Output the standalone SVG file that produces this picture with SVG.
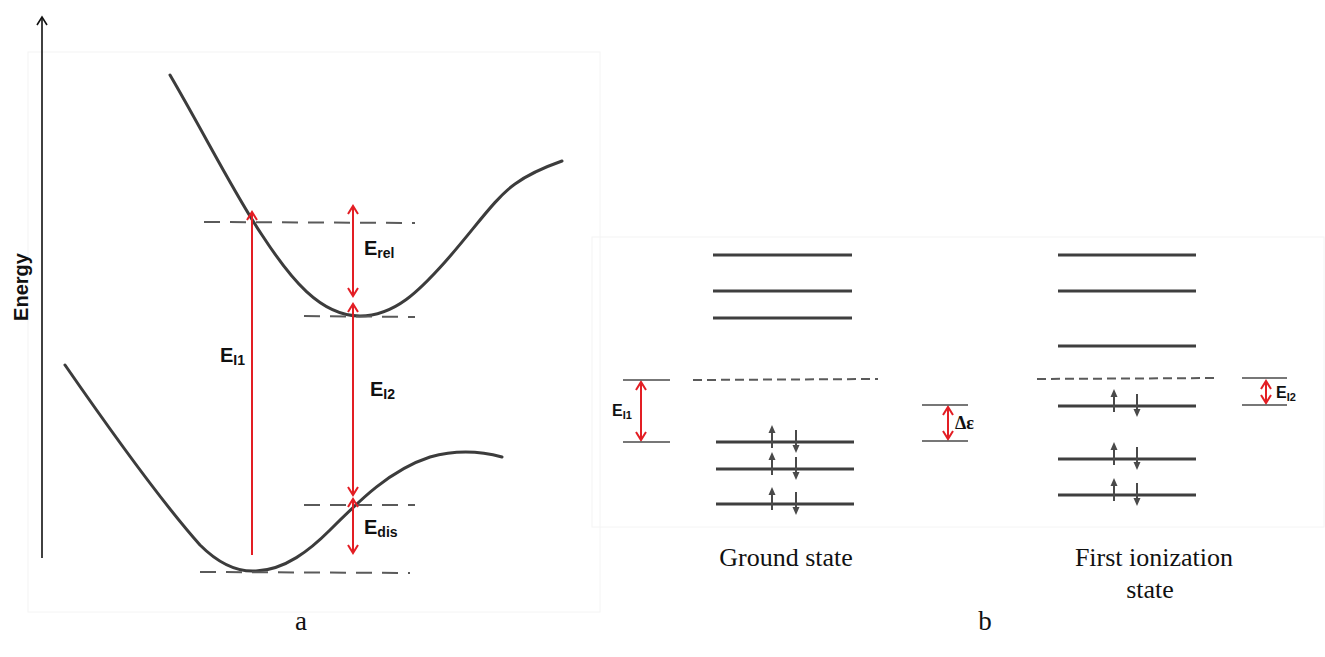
<svg xmlns="http://www.w3.org/2000/svg" width="1325" height="657" viewBox="0 0 1325 657">
<style>
.bg{fill:#ffffff}
.frame{fill:none;stroke:#f4f4f4;stroke-width:1}
.curve{fill:none;stroke:#3c3c3c;stroke-width:3;stroke-linecap:round}
.dashL{fill:none;stroke:#5a5a5a;stroke-width:2;stroke-dasharray:16 10}
.dashR{fill:none;stroke:#5a5a5a;stroke-width:2;stroke-dasharray:9 5}
.lvl{fill:none;stroke:#3f3f3f;stroke-width:3}
.tick{fill:none;stroke:#4a4a4a;stroke-width:1.6}
.red{fill:none;stroke:#e31e24;stroke-width:2}
.spin{fill:none;stroke:#4a4a4a;stroke-width:2}
.head{fill:#4a4a4a}
.lab{font-family:"Liberation Sans",Arial,sans-serif;font-weight:bold;fill:#111}
.cap{font-family:"Liberation Serif","Times New Roman",serif;fill:#111}
</style>
<defs>
<marker id="rh" viewBox="-10 -7 12 14" refX="0" refY="0" markerWidth="12" markerHeight="14" markerUnits="userSpaceOnUse" orient="auto-start-reverse">
<path d="M-8,-5 L0,0 L-8,5" fill="none" stroke="#e31e24" stroke-width="2"/>
</marker>
<marker id="ax" viewBox="-10 -7 12 14" refX="0" refY="0" markerWidth="12" markerHeight="14" markerUnits="userSpaceOnUse" orient="auto">
<path d="M-8,-5 L0,0 L-8,5" fill="none" stroke="#111" stroke-width="1.6"/>
</marker>
</defs>
<rect class="bg" x="0" y="0" width="1325" height="657"/>
<rect class="frame" x="28" y="52" width="572" height="560"/>
<rect class="frame" x="592" y="237" width="732" height="290"/>

<g id="axis">
<line x1="42" y1="558" x2="42" y2="17" stroke="#111" stroke-width="1.6" marker-end="url(#ax)"/>
<text class="lab" font-size="20" transform="translate(28,287) rotate(-90)" text-anchor="middle">Energy</text>
</g>

<g id="panel-a">
<path id="upper-curve" class="curve" d="M170,75 C205,135 235,195 262,235 C290,278 320,316 360,316 C395,316 420,290 445,262 C475,228 495,198 515,184 C530,173 545,167 562,161"/>
<path id="lower-curve" class="curve" d="M65,365 C110,430 160,500 200,545 C220,565 240,572 256,571 C285,570 310,550 330,530 C360,500 390,470 430,457 C455,450 480,451 502,457"/>
<line class="dashL" x1="204" y1="222" x2="415" y2="223"/>
<line class="dashL" x1="304" y1="316" x2="415" y2="317"/>
<line class="dashL" x1="304" y1="505" x2="415" y2="505"/>
<line class="dashL" x1="200" y1="572" x2="410" y2="573"/>
</g>

<g id="connectors">
<line class="red" x1="252" y1="555" x2="252" y2="212" marker-end="url(#rh)"/>
<line class="red" x1="353" y1="206" x2="353" y2="296" marker-start="url(#rh)" marker-end="url(#rh)"/>
<line class="red" x1="353" y1="304" x2="353" y2="495" marker-start="url(#rh)" marker-end="url(#rh)"/>
<line class="red" x1="353" y1="499" x2="353" y2="553" marker-start="url(#rh)" marker-end="url(#rh)"/>
<line class="red" x1="641" y1="382" x2="641" y2="440" marker-start="url(#rh)" marker-end="url(#rh)"/>
<line class="red" x1="948" y1="407" x2="948" y2="439" marker-start="url(#rh)" marker-end="url(#rh)"/>
<line class="red" x1="1266" y1="381" x2="1266" y2="403" marker-start="url(#rh)" marker-end="url(#rh)"/>
</g>

<g id="labels-a">
<text class="lab" font-size="20" x="364" y="255">E<tspan font-size="14" dy="3">rel</tspan></text>
<text class="lab" font-size="20" x="220" y="362">E<tspan font-size="14" dy="3">I1</tspan></text>
<text class="lab" font-size="20" x="370" y="396">E<tspan font-size="14" dy="3">I2</tspan></text>
<text class="lab" font-size="20" x="364" y="534">E<tspan font-size="14" dy="3">dis</tspan></text>
</g>

<g id="ground-state">
<line class="lvl" x1="713" y1="255" x2="852" y2="255"/>
<line class="lvl" x1="713" y1="291" x2="852" y2="291"/>
<line class="lvl" x1="713" y1="318" x2="852" y2="318"/>
<line class="dashR" x1="693" y1="380" x2="878" y2="379"/>
<line class="lvl" x1="716" y1="442" x2="854" y2="442"/>
<line class="lvl" x1="716" y1="469" x2="854" y2="469"/>
<line class="lvl" x1="716" y1="504" x2="854" y2="504"/>
<g id="spins-ground">
<line class="spin" x1="772" y1="448" x2="772" y2="430"/><path class="head" d="M768.5,433 L772,425 L775.5,433 Z"/>
<line class="spin" x1="796" y1="430" x2="796" y2="448"/><path class="head" d="M792.5,445 L796,453 L799.5,445 Z"/>
<line class="spin" x1="772" y1="475" x2="772" y2="457"/><path class="head" d="M768.5,460 L772,452 L775.5,460 Z"/>
<line class="spin" x1="796" y1="457" x2="796" y2="475"/><path class="head" d="M792.5,472 L796,480 L799.5,472 Z"/>
<line class="spin" x1="772" y1="510" x2="772" y2="492"/><path class="head" d="M768.5,495 L772,487 L775.5,495 Z"/>
<line class="spin" x1="796" y1="492" x2="796" y2="510"/><path class="head" d="M792.5,507 L796,515 L799.5,507 Z"/>
</g>
<line class="tick" x1="623" y1="380" x2="670" y2="380"/>
<line class="tick" x1="623" y1="442" x2="670" y2="442"/>
<text class="lab" font-size="16" x="612" y="416">E<tspan font-size="11" dy="3">I1</tspan></text>
<line class="tick" x1="922" y1="405" x2="968" y2="405"/>
<line class="tick" x1="922" y1="441" x2="968" y2="441"/>
<text class="cap" font-size="18" font-weight="bold" x="955" y="429">Δε</text>
<text class="cap" font-size="26" x="786" y="566" text-anchor="middle">Ground state</text>
</g>

<g id="first-ionization-state">
<line class="lvl" x1="1058" y1="255" x2="1196" y2="255"/>
<line class="lvl" x1="1058" y1="291" x2="1196" y2="291"/>
<line class="lvl" x1="1058" y1="346" x2="1196" y2="346"/>
<line class="dashR" x1="1037" y1="379" x2="1218" y2="378"/>
<line class="lvl" x1="1058" y1="406" x2="1196" y2="406"/>
<line class="lvl" x1="1058" y1="459" x2="1196" y2="459"/>
<line class="lvl" x1="1058" y1="495" x2="1196" y2="495"/>
<g id="spins-ionized">
<line class="spin" x1="1114" y1="412" x2="1114" y2="394"/><path class="head" d="M1110.5,397 L1114,389 L1117.5,397 Z"/>
<line class="spin" x1="1137" y1="394" x2="1137" y2="412"/><path class="head" d="M1133.5,409 L1137,417 L1140.5,409 Z"/>
<line class="spin" x1="1114" y1="465" x2="1114" y2="447"/><path class="head" d="M1110.5,450 L1114,442 L1117.5,450 Z"/>
<line class="spin" x1="1137" y1="447" x2="1137" y2="465"/><path class="head" d="M1133.5,462 L1137,470 L1140.5,462 Z"/>
<line class="spin" x1="1114" y1="501" x2="1114" y2="483"/><path class="head" d="M1110.5,486 L1114,478 L1117.5,486 Z"/>
<line class="spin" x1="1137" y1="483" x2="1137" y2="501"/><path class="head" d="M1133.5,498 L1137,506 L1140.5,498 Z"/>
</g>
<line class="tick" x1="1242" y1="378" x2="1287" y2="378"/>
<line class="tick" x1="1242" y1="405" x2="1287" y2="405"/>
<text class="lab" font-size="16" x="1276" y="398">E<tspan font-size="11" dy="3">I2</tspan></text>
<text class="cap" font-size="26" x="1154" y="566" text-anchor="middle">First ionization</text>
<text class="cap" font-size="26" x="1150" y="598" text-anchor="middle">state</text>
</g>

<g id="panel-labels">
<text class="cap" font-size="27" x="301" y="630" text-anchor="middle">a</text>
<text class="cap" font-size="27" x="985" y="630" text-anchor="middle">b</text>
</g>
</svg>
